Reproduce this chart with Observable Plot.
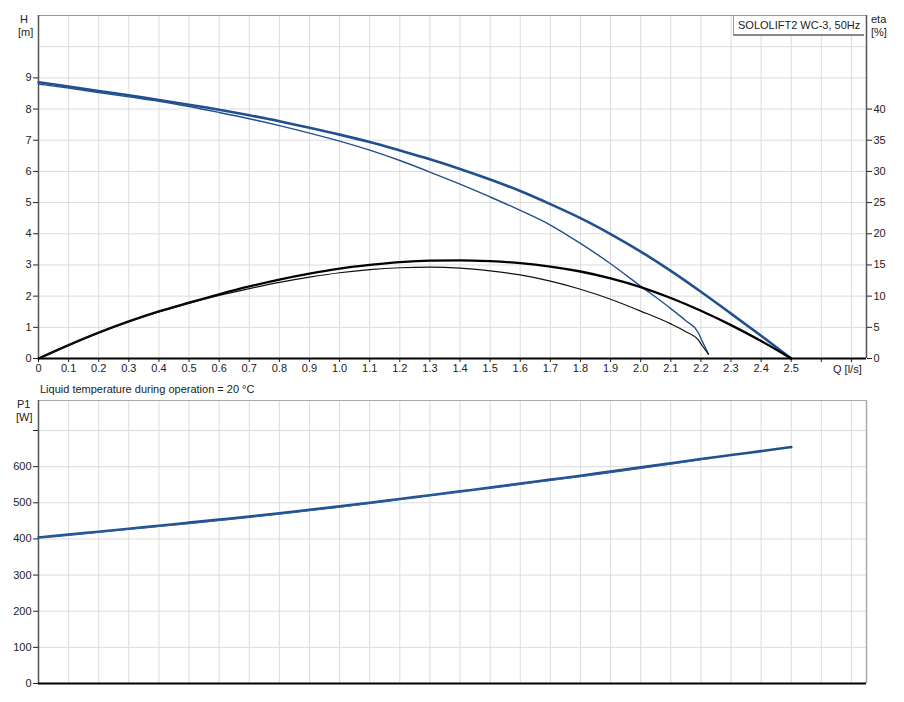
<!DOCTYPE html>
<html><head><meta charset="utf-8">
<script src="https://cdn.jsdelivr.net/npm/d3@7"></script>
<script src="https://cdn.jsdelivr.net/npm/@observablehq/plot@0.6"></script>
<style>
body{margin:0;background:#fff;font-family:"Liberation Sans",Arial,sans-serif;}
#wrap{position:relative;width:904px;height:702px;overflow:hidden;}
.abs{position:absolute;left:0;}
.lbl{position:absolute;font-size:11px;color:#222;line-height:13px;white-space:nowrap;}
#legend{position:absolute;left:733px;top:15px;width:126px;height:18px;border:1px solid #999;border-bottom:2px solid #888;border-right:none;background:#fff;font-size:11px;color:#222;line-height:18px;padding-left:4px;}
</style></head>
<body><div id="wrap"></div>
<script>
// ---- data ----
const qFull = [0,0.1,0.2,0.3,0.4,0.5,0.6,0.7,0.8,0.9,1.0,1.1,1.2,1.3,1.4,1.5,1.6,1.7,1.8,1.9,2.0,2.1,2.2,2.3,2.4,2.5];
const hFull = [8.86,8.72,8.58,8.44,8.29,8.14,7.98,7.80,7.61,7.40,7.18,6.94,6.67,6.39,6.08,5.74,5.37,4.95,4.50,3.99,3.43,2.81,2.14,1.44,0.73,0];
const etaFull = [0,2.15,4.15,5.95,7.55,8.95,10.3,11.55,12.65,13.6,14.4,15.0,15.45,15.7,15.75,15.6,15.3,14.75,13.95,12.85,11.45,9.7,7.65,5.35,2.8,0];
const p1Full = [404,412,420,428,436.5,445,453.5,462,471,480.5,490,500,510.5,521,531.5,542,553,564,575,586.5,598,609.5,621,632,643,654];

const qPart = [0,0.1,0.2,0.3,0.4,0.5,0.6,0.7,0.8,0.9,1.0,1.1,1.2,1.3,1.4,1.5,1.6,1.7,1.8,1.9,2.0,2.1,2.15,2.19,2.205,2.225];
const hPart = [8.80,8.67,8.53,8.39,8.25,8.08,7.89,7.69,7.47,7.23,6.97,6.68,6.35,5.98,5.59,5.18,4.75,4.28,3.69,3.04,2.32,1.60,1.21,0.85,0.54,0.14];
const etaPart = [0,2.15,4.15,5.9,7.45,8.85,10.1,11.2,12.2,13.05,13.75,14.25,14.55,14.65,14.5,14.05,13.4,12.4,11.1,9.5,7.6,5.55,4.3,3.05,2.0,0.7];
const p1Part = [404,411,419,427,434.5,442.5,451,459.5,468.5,478,488,498.5,509.5,520.5,531,541,551.5,562,572.5,583.5,595,607,613,618,620,622];

const qTicks = [0,0.1,0.2,0.3,0.4,0.5,0.6,0.7,0.8,0.9,1.0,1.1,1.2,1.3,1.4,1.5,1.6,1.7,1.8,1.9,2.0,2.1,2.2,2.3,2.4,2.5,2.6,2.7];
const hTicks = [0,1,2,3,4,5,6,7,8,9];
const hGrid = [1,2,3,4,5,6,7,8,9,10];
const etaTicks = [0,5,10,15,20,25,30,35,40];
const pTicks = [0,100,200,300,400,500,600,700];

const title = "SOLOLIFT2 WC-3, 50Hz";

// ---- build ----
const blue = "#22508f";
const grid = "#dcdcdc";
const full = qFull.map((q,i)=>({q, h:hFull[i], eta:etaFull[i], p:p1Full[i]}));
const part = qPart.map((q,i)=>({q, h:hPart[i], eta:etaPart[i], p:p1Part[i]}));
const font = {fontFamily:'"Liberation Sans",Arial,sans-serif', fontSize:"11px", color:"#222", background:"transparent", overflow:"visible"};
const W = 904, ML = 38, MR = 38;
const xDom = [0, 2.75];
const fmtQ = d => d > 2.55 ? "" : (d === 0 ? "0" : d.toFixed(1));

const topPlot = Plot.plot({
  width: W, height: 380, marginLeft: ML, marginRight: MR, marginTop: 15, marginBottom: 22,
  style: font,
  x: {domain: xDom, axis: null},
  y: {domain: [0, 11], axis: null},
  marks: [
    Plot.gridX(qTicks.filter(d => d > 0), {stroke: grid, strokeOpacity: 1}),
    Plot.gridY(hGrid, {stroke: grid, strokeOpacity: 1}),
    Plot.ruleY([11], {stroke: "#999"}),
    Plot.ruleX([0], {stroke: "#555", strokeWidth: 1.5}),
    Plot.ruleX([2.75], {stroke: "#555", strokeWidth: 1.5}),
    Plot.axisX(qTicks, {anchor: "bottom", tickFormat: fmtQ, tickSize: 4, tickPadding: 2, label: null, stroke: "#222"}),
    Plot.axisY(hTicks, {anchor: "left", tickSize: 5, tickPadding: 2, label: null, stroke: "#222"}),
    Plot.line(full, {x: "q", y: "h", stroke: blue, strokeWidth: 2.6, curve: "monotone-x"}),
    Plot.line(part, {x: "q", y: "h", stroke: blue, strokeWidth: 1.4, curve: "monotone-x"}),
    Plot.ruleY([0], {stroke: "#000", strokeWidth: 2})
  ]
});

const etaPlot = Plot.plot({
  width: W, height: 380, marginLeft: ML, marginRight: MR, marginTop: 15, marginBottom: 22,
  style: font,
  x: {domain: xDom, axis: null},
  y: {domain: [0, 55], axis: null},
  marks: [
    Plot.axisY(etaTicks, {anchor: "right", tickSize: 5, tickPadding: 2, label: null, stroke: "#222"}),
    Plot.line(full, {x: "q", y: "eta", stroke: "#000", strokeWidth: 2.3, curve: "monotone-x"}),
    Plot.line(part, {x: "q", y: "eta", stroke: "#111", strokeWidth: 1.2, curve: "monotone-x"})
  ]
});

const botPlot = Plot.plot({
  width: W, height: 322, marginLeft: ML, marginRight: MR, marginTop: 20, marginBottom: 19,
  style: font,
  x: {domain: xDom, axis: null},
  y: {domain: [0, 783], axis: null},
  marks: [
    Plot.gridX(qTicks.filter(d => d > 0), {stroke: grid, strokeOpacity: 1}),
    Plot.gridY(pTicks.filter(d => d > 0), {stroke: grid, strokeOpacity: 1}),
    Plot.ruleY([783], {stroke: "#aaa"}),
    Plot.ruleX([2.75], {stroke: "#aaa", strokeWidth: 1.5}),
    Plot.ruleX([0], {stroke: "#555", strokeWidth: 1.5}),
    Plot.axisY(pTicks, {anchor: "left", tickSize: 5, tickPadding: 2, label: null, stroke: "#222", tickFormat: d => d <= 600 ? String(d) : ""}),
    Plot.line(full, {x: "q", y: "p", stroke: blue, strokeWidth: 2.6, curve: "monotone-x"}),
    Plot.line(part, {x: "q", y: "p", stroke: "#2d5c9c", strokeWidth: 1.2, curve: "monotone-x"}),
    Plot.ruleY([0], {stroke: "#000", strokeWidth: 2})
  ]
});

const wrap = document.getElementById("wrap");
function place(el, top){ el.classList.add("abs"); el.style.top = top + "px"; el.style.position = "absolute"; wrap.appendChild(el); }
place(topPlot, 0);
place(etaPlot, 0);
place(botPlot, 380);

function label(text, left, top){
  const d = document.createElement("div"); d.className = "lbl"; d.textContent = text;
  d.style.left = left + "px"; d.style.top = top + "px"; wrap.appendChild(d);
}
label("H", 20, 13);
label("[m]", 18, 26);
label("eta", 871, 13);
label("[%]", 871, 26);
label("Q [l/s]", 833, 363);
label("Liquid temperature during operation = 20 °C", 40, 383);
label("P1", 17, 398);
label("[W]", 16, 411);
const lg = document.createElement("div"); lg.id = "legend"; lg.textContent = title; wrap.appendChild(lg);
</script></body></html>
